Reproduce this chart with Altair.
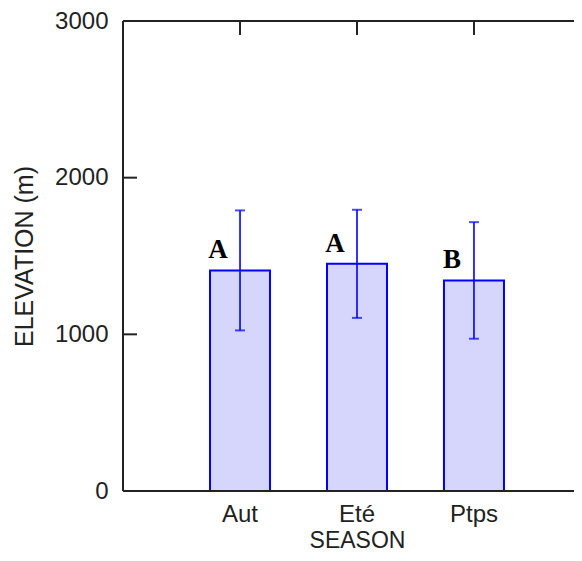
import altair as alt
import pandas as pd

seasons = ["Aut", "Eté", "Ptps"]
means = [1408, 1450, 1344]
errors = [383, 345, 372]
letters = ["A", "A", "B"]
y_ticks = [0, 1000, 2000, 3000]
inner_ticks = [1000, 2000]

df = pd.DataFrame({"season": seasons, "mean": means, "err": errors, "letter": letters})
df["lo"] = df["mean"] - df["err"]
df["hi"] = df["mean"] + df["err"]
ticks_df = pd.DataFrame({"v": inner_ticks})

FULL_W = 468   # full plot frame width (right part falls outside the window)
W, H = 451, 470
TL = 14
INK = "#222222"
BLUE = "#0000ff"

xs = alt.Scale(domain=seasons, paddingInner=0.487, paddingOuter=0.744, range=[0, FULL_W])
ys = alt.Scale(domain=[0, 3000], nice=False)

x_axis = alt.Axis(title="SEASON", labelAngle=0, ticks=False, domain=False,
                  labelPadding=11, titlePadding=3, titleFontSize=23)
y_axis = alt.Axis(title="ELEVATION (m)", values=y_ticks, format="d", ticks=False,
                  domain=False, grid=False, labelPadding=15, titlePadding=17,
                  titleFontSize=25)

X = alt.X("season:N", scale=xs, sort=seasons, axis=x_axis)


def Yf(field):
    return alt.Y(field, scale=ys, axis=y_axis)


base = alt.Chart(df)

bars = base.mark_bar(fill="#d6d6fc", stroke=BLUE, strokeWidth=2).encode(x=X, y=Yf("mean:Q"))

rules = base.mark_rule(color=BLUE, strokeWidth=1.6).encode(
    x=X, y=Yf("lo:Q"), y2="hi:Q")
caps_hi = base.mark_tick(color=BLUE, size=10, thickness=2).encode(x=X, y=Yf("hi:Q"))
caps_lo = base.mark_tick(color=BLUE, size=10, thickness=2).encode(x=X, y=Yf("lo:Q"))

labels = base.mark_text(font="Liberation Serif", fontWeight="bold", fontSize=27,
                        dx=-22, dy=-12, baseline="alphabetic", align="center",
                        color="black").encode(x=X, y=Yf("mean:Q"), text="letter:N")

left_ticks = alt.Chart(ticks_df).mark_rule(color=INK, strokeWidth=2).encode(
    y=Yf("v:Q"), x=alt.value(0), x2=alt.value(TL))
right_ticks = alt.Chart(ticks_df).mark_rule(color=INK, strokeWidth=2).encode(
    y=Yf("v:Q"), x=alt.value(FULL_W - TL), x2=alt.value(FULL_W))
top_ticks = base.mark_rule(color=INK, strokeWidth=2).encode(
    x=X, y=alt.value(0), y2=alt.value(TL))

frame_left = alt.Chart(ticks_df).mark_rule(color=INK, strokeWidth=2).encode(
    x=alt.value(0), y=alt.value(0), y2=alt.value(H))
frame_top = alt.Chart(ticks_df).mark_rule(color=INK, strokeWidth=2).encode(
    y=alt.value(0), x=alt.value(0), x2=alt.value(FULL_W))
frame_bottom = alt.Chart(ticks_df).mark_rule(color=INK, strokeWidth=2).encode(
    y=alt.value(H), x=alt.value(0), x2=alt.value(FULL_W))

chart = alt.layer(
    bars, top_ticks, left_ticks, right_ticks, frame_left, frame_top, frame_bottom,
    rules, caps_hi, caps_lo, labels
).properties(
    width=W, height=H,
    autosize=alt.AutoSizeParams(type="none"),
    padding={"left": 115, "top": 13, "right": 0, "bottom": 62},
    background="white",
).configure_view(stroke=None).configure_axis(
    labelFontSize=24, labelFont="Liberation Sans",
    titleFont="Liberation Sans", titleFontWeight="normal",
    labelColor=INK, titleColor=INK,
)

chart.save("out.html", embed_options={"renderer": "svg", "actions": False})
